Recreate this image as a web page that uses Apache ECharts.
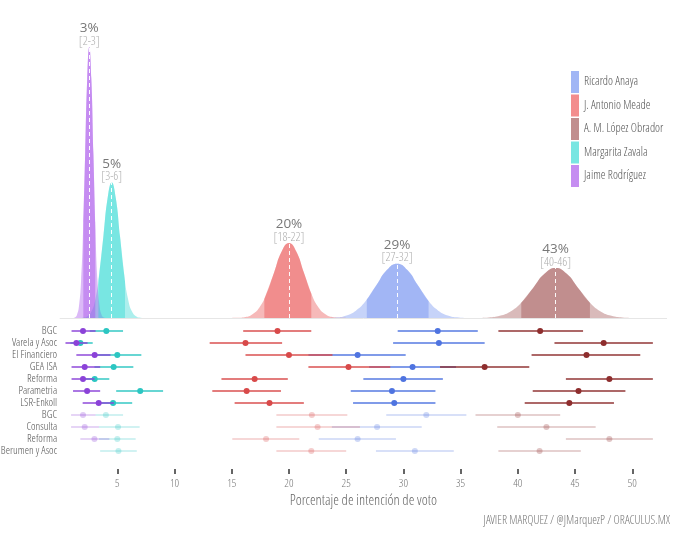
<!DOCTYPE html>
<html>
<head>
<meta charset="utf-8">
<script src="https://cdn.jsdelivr.net/npm/echarts@6/dist/echarts.min.js"></script>
<style>
html,body{margin:0;padding:0;background:#fff;}
#main{width:680px;height:557px;}
</style>
</head>
<body>
<div id="main"></div>
<script>
// ---------- DATA ----------
const candidates = ['Ricardo Anaya', 'J. Antonio Meade', 'A. M. López Obrador', 'Margarita Zavala', 'Jaime Rodríguez'];
const means = [29.45, 20.0, 43.3, 4.51, 2.55];
const peaks = [0.222, 0.307, 0.2046, 0.554, 1.108];
const pctLabels = ['29%', '20%', '43%', '5%', '3%'];
const rangeLabels = ['[27-32]', '[18-22]', '[40-46]', '[3-6]', '[2-3]'];
const tickValues = [5, 10, 15, 20, 25, 30, 35, 40, 45, 50];

// estimated density curves (x, density)
const densAnaya = [[22.25,0.0001],[23.15,0.0005],[24.05,0.0025],[24.95,0.0097],[25.85,0.030],[26.75,0.0721],[27.65,0.1346],[28.55,0.1959],[29.45,0.222],[30.35,0.1959],[31.25,0.1346],[32.15,0.0721],[33.05,0.030],[33.95,0.0097],[34.85,0.0025],[35.75,0.0005],[36.65,0.0001]];
const bandAnaya = [[26.8,0.075],[27.65,0.1346],[28.55,0.1959],[29.45,0.222],[30.35,0.1959],[31.25,0.1346],[32.2,0.069]];
const densMeade = [[14.8,0.0001],[15.45,0.0007],[16.1,0.0034],[16.75,0.0135],[17.4,0.0415],[18.05,0.0997],[18.7,0.186],[19.35,0.271],[20.0,0.307],[20.65,0.271],[21.3,0.186],[21.95,0.0997],[22.6,0.0415],[23.25,0.0135],[23.9,0.0034],[24.55,0.0007],[25.2,0.0001]];
const bandMeade = [[17.85,0.078],[18.7,0.186],[19.35,0.271],[20.0,0.307],[20.65,0.271],[21.3,0.186],[21.95,0.0997]];
const densAmlo = [[35.5,0.0001],[36.475,0.0005],[37.45,0.0023],[38.425,0.009],[39.4,0.0277],[40.375,0.0664],[41.35,0.1241],[42.325,0.1806],[43.3,0.2046],[44.275,0.1806],[45.25,0.1241],[46.225,0.0664],[47.2,0.0277],[48.175,0.009],[49.15,0.0023],[50.125,0.0005],[51.1,0.0001]];
const bandAmlo = [[40.3,0.0627],[41.35,0.1241],[42.325,0.1806],[43.3,0.2046],[44.275,0.1806],[45.25,0.1241],[46.3,0.0627]];
const densZavala = [[1.63,0.0002],[1.99,0.0012],[2.35,0.0061],[2.71,0.0243],[3.07,0.075],[3.43,0.180],[3.79,0.336],[4.15,0.489],[4.51,0.554],[4.87,0.489],[5.23,0.336],[5.59,0.180],[5.95,0.075],[6.31,0.0243],[6.67,0.0061],[7.03,0.0012],[7.39,0.0002]];
const bandZavala = [[3.35,0.152],[3.79,0.336],[4.15,0.489],[4.51,0.554],[4.87,0.489],[5.23,0.336],[5.67,0.152]];
const densJaime = [[1.11,0.0003],[1.29,0.0024],[1.47,0.0123],[1.65,0.0486],[1.83,0.150],[2.01,0.360],[2.19,0.672],[2.37,0.978],[2.55,1.108],[2.73,0.978],[2.91,0.672],[3.09,0.360],[3.27,0.150],[3.45,0.0486],[3.63,0.0123],[3.81,0.0024],[3.99,0.0003]];
const bandJaime = [[2.03,0.393],[2.19,0.672],[2.37,0.978],[2.55,1.108],[2.73,0.978],[2.91,0.672],[3.07,0.393]];

// polls: [estimate, low, high] per pollster row
const pollsters = ['BGC', 'Varela y Asoc', 'El Financiero', 'GEA ISA', 'Reforma', 'Parametria', 'LSR-Enkoll', 'BGC', 'Consulta', 'Reforma', 'Berumen y Asoc'];
const faded = [0, 0, 0, 0, 0, 0, 0, 1, 1, 1, 1];
const pollAnaya = [[33.0,29.5,36.5],[33.1,29.1,37.1],[26.0,21.7,30.2],[30.8,27.0,34.6],[30.0,26.5,33.45],[29.0,25.4,32.8],[29.2,25.6,32.8],[32.0,28.5,35.5],[27.7,23.75,31.6],[26.0,22.6,29.35],[31.0,27.6,34.4]];
const pollMeade = [[19.0,16.0,21.95],[16.2,13.07,19.4],[20.0,16.2,23.8],[25.2,21.7,28.85],[17.0,14.1,19.9],[16.3,13.3,19.3],[18.3,15.25,21.3],[22.0,18.9,25.1],[22.5,18.9,26.2],[18.0,15.05,20.9],[21.95,18.9,25.0]];
const pollAmlo = [[41.95,38.3,45.7],[47.5,43.2,51.8],[46.0,41.2,50.7],[37.1,33.2,41.0],[48.0,44.2,51.8],[45.3,41.3,49.4],[44.5,40.6,48.4],[40.0,36.3,43.7],[42.5,38.2,46.8],[48.0,44.2,51.8],[41.9,38.3,45.5]];
const pollZavala = [[4.04,2.6,5.5],[1.77,0.9,2.85],[5.0,3.2,7.1],[4.68,3.0,6.4],[3.02,2.0,4.3],[7.0,4.9,9.0],[4.63,3.4,6.3],[4.0,3.1,5.5],[5.06,3.4,6.95],[5.0,3.4,6.6],[5.1,3.5,6.7]];
const pollJaime = [[2.0,1.0,3.1],[1.42,0.47,2.4],[3.02,1.42,4.4],[2.15,1.0,3.5],[2.0,1.0,3.0],[2.36,1.13,3.5],[3.37,1.97,4.7],[2.0,0.96,3.1],[2.15,0.96,3.4],[3.0,1.77,4.3],null];

// ---------- STYLE ----------
const baseColors = ['#7090f0', '#e95050', '#9f5252', '#2fd8d3', '#a64fea'];
const legendColors = ['#a1b6f5', '#f38d8d', '#c18e8e', '#78e6e2', '#c58df1'];
const pollColors = ['#4f74e0', '#d84a4a', '#8e2e2e', '#2cc6c2', '#8b42d8'];
const COND = '"Open Sans Condensed Light", "Roboto Condensed", sans-serif';

const dens = [densAnaya, densMeade, densAmlo, densZavala, densJaime];
const bands = [bandAnaya, bandMeade, bandAmlo, bandZavala, bandJaime];
const polls = [pollAnaya, pollMeade, pollAmlo, pollZavala, pollJaime];

const chart = echarts.init(document.getElementById('main'), null, {renderer: 'canvas'});

const series = [];
dens.forEach((d, i) => {
  series.push({
    name: candidates[i], type: 'line', xAxisIndex: 0, yAxisIndex: 0,
    data: d, smooth: 0.5, showSymbol: false, silent: true,
    lineStyle: {width: 0, opacity: 0},
    areaStyle: {color: baseColors[i], opacity: 0.4},
    z: 2
  });
});
bands.forEach((d, i) => {
  series.push({
    name: candidates[i] + ' band', type: 'line', xAxisIndex: 0, yAxisIndex: 0,
    data: d, smooth: 0.5, showSymbol: false, silent: true,
    lineStyle: {width: 0, opacity: 0},
    areaStyle: {color: baseColors[i], opacity: 0.42},
    markLine: {
      silent: true, symbol: ['none', 'none'],
      label: {show: false},
      lineStyle: {color: '#ffffff', type: [4, 3], width: 1, opacity: 0.95},
      data: [[{coord: [means[i], 0]}, {coord: [means[i], peaks[i]]}]]
    },
    z: 3
  });
});
series.push({
  type: 'scatter', xAxisIndex: 0, yAxisIndex: 0, silent: true,
  symbolSize: 0, itemStyle: {color: 'rgba(0,0,0,0)'},
  data: means.map((m, i) => [m, peaks[i], i]),
  label: {
    show: true, position: 'top', distance: -1,
    formatter: p => '{a|' + pctLabels[p.value[2]] + '}\n{b|' + rangeLabels[p.value[2]] + '}',
    rich: {
      a: {fontFamily: '"Open Sans", sans-serif', fontSize: 13.5, color: '#555', lineHeight: 13, align: 'center'},
      b: {fontFamily: COND, fontSize: 12.5, color: '#999', lineHeight: 13, align: 'center'}
    }
  },
  z: 5
});
polls.forEach((pl, ci) => {
  const data = [];
  pl.forEach((v, r) => { if (v) data.push([v[0], v[1], v[2], r, faded[r]]); });
  series.push({
    type: 'custom', xAxisIndex: 1, yAxisIndex: 1, silent: true,
    encode: {x: [0, 1, 2], y: 3},
    data: data,
    renderItem: function (params, api) {
      const mid = api.value(0), lo = api.value(1), hi = api.value(2), row = api.value(3), f = api.value(4);
      const p1 = api.coord([lo, row]), p2 = api.coord([hi, row]), pm = api.coord([mid, row]);
      const col = pollColors[ci];
      return {
        type: 'group', children: [
          {type: 'line', shape: {x1: p1[0], y1: p1[1], x2: p2[0], y2: p2[1]},
           style: {stroke: col, lineWidth: 2, opacity: f ? 0.22 : 0.72}},
          {type: 'circle', shape: {cx: pm[0], cy: pm[1], r: 3},
           style: {fill: col, opacity: f ? 0.28 : 1}}
        ]
      };
    },
    z: 4
  });
});

const option = {
  animation: false,
  backgroundColor: '#ffffff',
  grid: [
    {left: 60.1, right: 13.4, top: 20, bottom: 239, outerBoundsMode: 'none', containLabel: false},
    {left: 60.1, right: 13.4, top: 325, bottom: 88, outerBoundsMode: 'none', containLabel: false}
  ],
  xAxis: [
    {type: 'value', gridIndex: 0, min: 0, max: 53, interval: 5,
     axisLine: {show: true, lineStyle: {color: '#e6e6e6', width: 1}},
     axisTick: {show: false}, axisLabel: {show: false}, splitLine: {show: false}},
    {type: 'value', gridIndex: 1, min: 0, max: 53, interval: 5,
     name: 'Porcentaje de intención de voto', nameLocation: 'middle', nameGap: 25,
     nameTextStyle: {fontFamily: COND, fontSize: 14.5, color: '#666'},
     axisLine: {show: false},
     axisTick: {show: true, length: 5, customValues: tickValues, lineStyle: {color: '#333', width: 1.5}},
     axisLabel: {show: true, customValues: tickValues, margin: 9, fontFamily: COND, fontSize: 11.5, color: '#777'},
     splitLine: {show: false}}
  ],
  yAxis: [
    {type: 'value', gridIndex: 0, min: 0, max: 1.218, show: false},
    {type: 'category', gridIndex: 1, inverse: true, data: pollsters.concat(['']),
     axisLine: {show: false}, axisTick: {show: false}, splitLine: {show: false},
     axisLabel: {interval: 0, margin: 3, fontFamily: COND, fontSize: 11, color: '#555'}}
  ],
  legend: {
    orient: 'vertical', left: 566, top: 66,
    itemWidth: 8, itemHeight: 22, itemGap: 1.5, icon: 'rect',
    selectedMode: false,
    textStyle: {fontFamily: COND, fontSize: 12, color: '#555'},
    data: candidates.map((c, i) => ({name: c, itemStyle: {color: legendColors[i]}}))
  },
  graphic: [
    {type: 'text', right: 10, top: 515,
     style: {text: 'JAVIER MARQUEZ / @JMarquezP / ORACULUS.MX', fontFamily: COND, fontSize: 12, fill: '#777'}}
  ],
  series: series
};
chart.setOption(option);
</script>
</body>
</html>
